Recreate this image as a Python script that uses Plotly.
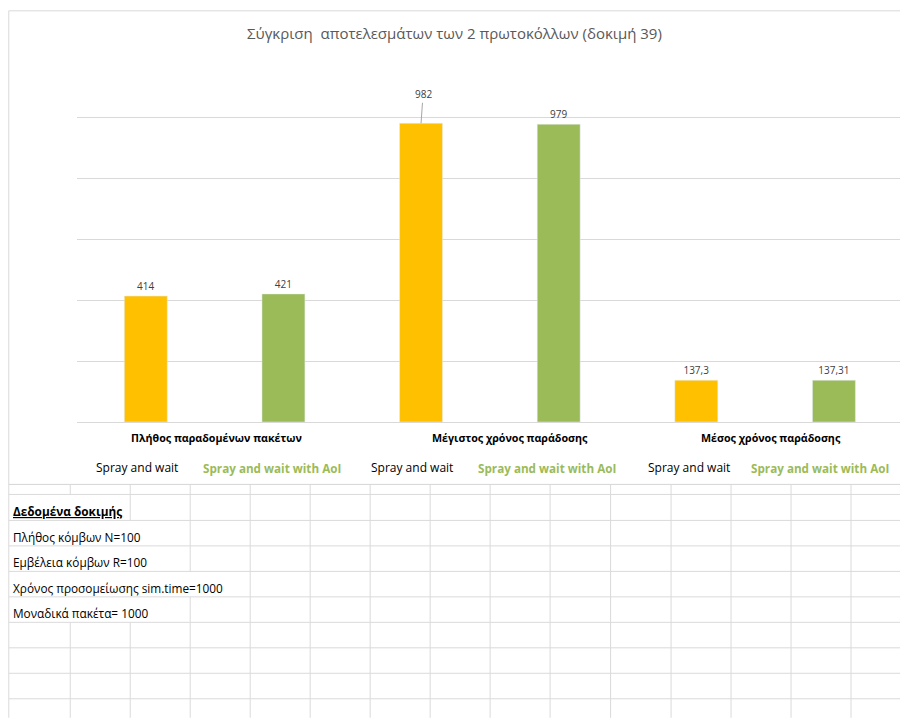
import plotly.graph_objects as go

# ---- data -------------------------------------------------------------
categories = ["Πλήθος παραδομένων πακέτων", "Μέγιστος χρόνος παράδοσης", "Μέσος χρόνος παράδοσης"]
series_names = ["Spray and wait", "Spray and wait with AoI"]
spray_wait = [414, 982, 137.3]
spray_wait_aoi = [421, 979, 137.31]
y_ticks = [0, 200, 400, 600, 800, 1000, 1200]
title_text = "Σύγκριση  αποτελεσμάτων των 2 πρωτοκόλλων (δοκιμή 39)"
notes = ["Δεδομένα δοκιμής", "Πλήθος κόμβων N=100", "Εμβέλεια κόμβων R=100",
         "Χρόνος προσομείωσης sim.time=1000", "Μοναδικά πακέτα= 1000"]

YELLOW = "#FFC000"
GREEN = "#9BBB59"
GRID = "#d9d9d9"
FONT = "Open Sans"

# ---- page geometry (pixels) ------------------------------------------
W, H = 900, 718
L, R, T, B = 76.75, 900.0, 56.7, 422.0


def fx(px):
    return (px - L) / (R - L)


def fy(py):
    return (B - py) / (B - T)


def fmt(v):
    return f"{v:g}".replace(".", ",")


fig = go.Figure()
fig.add_trace(go.Bar(
    x=categories, y=spray_wait, name=series_names[0], marker_color=YELLOW,
    text=[fmt(v) if v != max(spray_wait) else "" for v in spray_wait],
    textposition="outside", constraintext="none", cliponaxis=False,
    textfont=dict(family=FONT, size=10, color="#404040"),
))
fig.add_trace(go.Bar(
    x=categories, y=spray_wait_aoi, name=series_names[1], marker_color=GREEN,
    text=[fmt(v) for v in spray_wait_aoi],
    textposition="outside", constraintext="none", cliponaxis=False,
    textfont=dict(family=FONT, size=10, color="#404040"),
))

annotations = []
# the tallest label is lifted above its bar with a leader line
imax = spray_wait.index(max(spray_wait))
annotations.append(dict(
    x=imax - 0.25, y=max(spray_wait), xref="x", yref="y", text=fmt(max(spray_wait)),
    showarrow=True, arrowhead=0, arrowwidth=1, arrowcolor="#a6a6a6",
    ax=2, ay=-29, standoff=0,
    font=dict(family=FONT, size=10, color="#404040"),
))

# title
annotations.append(dict(
    x=fx(454), y=fy(33), xref="paper", yref="paper", text=title_text,
    showarrow=False, xanchor="center", yanchor="middle",
    font=dict(family=FONT, size=15, color="#595959"),
))

# category labels and series captions under the axis
group_x = [216, 509.5, 771]
sw_x = [137, 412, 689]
swa_x = [272, 547, 820]
for i, c in enumerate(categories):
    annotations.append(dict(
        x=fx(group_x[i]), y=fy(438), xref="paper", yref="paper", text=f"<b>{c}</b>",
        showarrow=False, xanchor="center", yanchor="middle",
        font=dict(family=FONT, size=10.7, color="#000000"),
    ))
    annotations.append(dict(
        x=fx(sw_x[i]), y=fy(468), xref="paper", yref="paper", text=series_names[0],
        showarrow=False, xanchor="center", yanchor="middle",
        font=dict(family=FONT, size=12, color="#000000"),
    ))
    annotations.append(dict(
        x=fx(swa_x[i]), y=fy(468), xref="paper", yref="paper", text=f"<b>{series_names[1]}</b>",
        showarrow=False, xanchor="center", yanchor="middle",
        font=dict(family=FONT, size=11.7, color=GREEN),
    ))

# ---- worksheet grid beneath the chart ---------------------------------
row_lines = [484.5, 494.5, 520.5, 546, 571.5, 597, 622.5, 648, 673.5, 699, 718]
col_lines = [70, 130, 190, 250, 310, 370, 430, 490, 550, 610.5, 671, 731, 791, 851]
# columns covered by overflowing text in each row (row index -> hidden columns)
hidden = {1: {70}, 2: {70, 130}, 3: {70, 130}, 4: {70, 130, 190}, 5: {70, 130}}

shapes = []
SHEET = "#dadada"
for y in row_lines[:-1]:
    shapes.append(dict(type="line", xref="paper", yref="paper",
                       x0=fx(8.5), x1=fx(905), y0=fy(y), y1=fy(y),
                       line=dict(color=SHEET, width=1), layer="below"))
for ri in range(len(row_lines) - 1):
    for cx in col_lines:
        if cx in hidden.get(ri, set()):
            continue
        shapes.append(dict(type="line", xref="paper", yref="paper",
                           x0=fx(cx), x1=fx(cx), y0=fy(row_lines[ri]), y1=fy(row_lines[ri + 1]),
                           line=dict(color=SHEET, width=1), layer="below"))
# left edge of the sheet column
shapes.append(dict(type="line", xref="paper", yref="paper",
                   x0=fx(8.5), x1=fx(8.5), y0=fy(484.5), y1=fy(718),
                   line=dict(color=SHEET, width=1), layer="below"))
# chart frame
shapes.append(dict(type="rect", xref="paper", yref="paper",
                   x0=fx(8.5), x1=fx(905), y0=fy(484.5), y1=fy(10.5),
                   line=dict(color=GRID, width=1), fillcolor="rgba(0,0,0,0)", layer="below"))

for ri, note in enumerate(notes):
    ybot = row_lines[ri + 2] + 1
    font = dict(family=FONT, size=11.8, color="#000000")
    txt = note
    if ri == 0:
        txt = f"<b>{note}</b>"
        font["lineposition"] = "under"
    annotations.append(dict(
        x=fx(11), y=fy(ybot), xref="paper", yref="paper", text=txt,
        showarrow=False, xanchor="left", yanchor="bottom",
        font=font,
    ))

fig.update_layout(
    width=W, height=H,
    margin=dict(l=L, r=W - R, t=T, b=H - B, pad=0),
    paper_bgcolor="white", plot_bgcolor="white",
    barmode="group", bargap=0, bargroupgap=0.688,
    showlegend=False,
    xaxis=dict(range=[-0.5, 2.49], showticklabels=False, showgrid=False, zeroline=False,
               showline=False, ticks="", fixedrange=True),
    yaxis=dict(range=[0, 1200], tickvals=y_ticks, showticklabels=False, showgrid=True,
               gridcolor=GRID, gridwidth=1, zeroline=True, zerolinecolor=GRID, zerolinewidth=1,
               showline=False, ticks="", fixedrange=True),
    annotations=annotations,
    shapes=shapes,
)

fig.write_html("out.html")
